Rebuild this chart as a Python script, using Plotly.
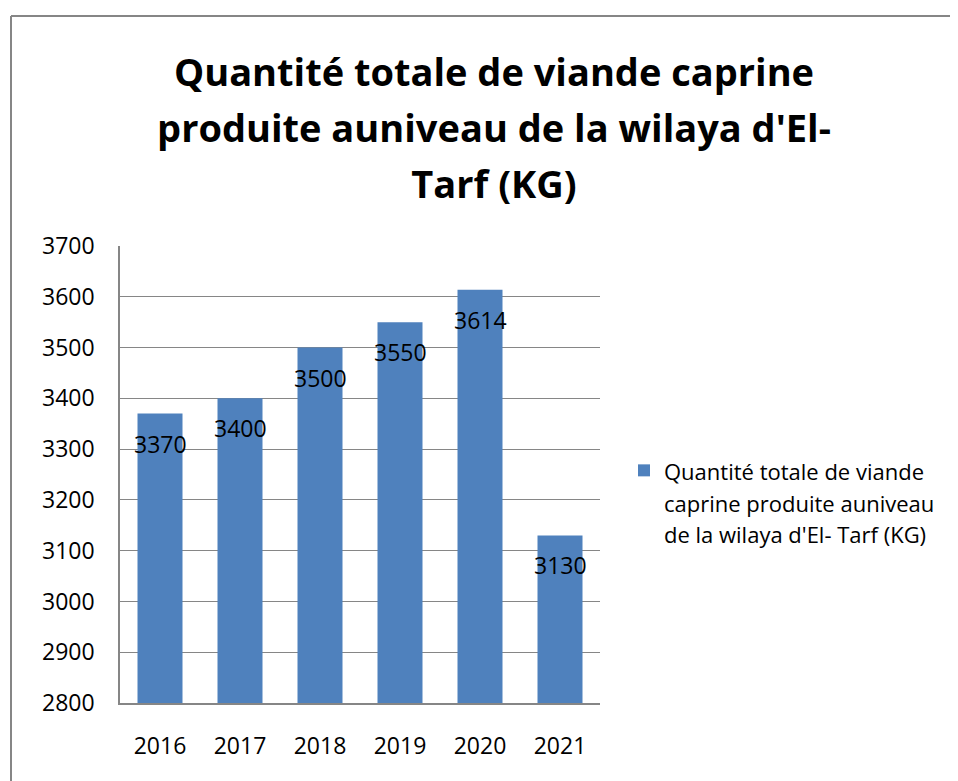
import plotly.graph_objects as go

years = ["2016", "2017", "2018", "2019", "2020", "2021"]
values = [3370, 3400, 3500, 3550, 3614, 3130]
legend_lines = ["Quantité totale de viande",
                "caprine produite auniveau",
                "de la wilaya d'El- Tarf (KG)"]
title_lines = ["Quantité totale de viande caprine",
               "produite auniveau de la wilaya d'El-",
               "Tarf (KG)"]
y_ticks = list(range(2800, 3701, 100))

FONT = "Open Sans"
BAR = "#4F81BD"
GRID = "#868686"

W, H = 950, 773
L, T = 112, 238
PW, PH = 480, 457

series_name = "<br>".join(
    f"<span style='font-size:22px'>{t}</span>" for t in legend_lines)

fig = go.Figure()
fig.add_trace(go.Bar(
    x=years, y=values, name=series_name,
    marker=dict(color=BAR, line=dict(width=0)),
    showlegend=True,
))

annotations = []
for i, v in enumerate(values):
    annotations.append(dict(
        x=i, y=v, xref="x", yref="y", text=str(v), showarrow=False,
        yshift=-30, font=dict(family=FONT, size=23, color="black"),
    ))

title_text = "<br>".join(
    f"<span style='font-size:38px'>{t}</span>" for t in title_lines)

bx = (3 - L) / PW
by = 1 + (T - 8) / PH

fig.update_layout(
    width=W, height=H,
    margin=dict(l=L, r=W - L - PW, t=T, b=H - T - PH),
    paper_bgcolor="white", plot_bgcolor="white",
    bargap=0.4375,
    title=dict(
        text=title_text, xref="container", yref="container",
        x=486 / W, xanchor="center", y=1 - 78 / H, yanchor="top",
        font=dict(family=FONT, size=43, color="black", weight="bold"),
    ),
    xaxis=dict(
        type="category",
        showline=True, linecolor=GRID, linewidth=1.5, ticks="",
        tickfont=dict(family=FONT, size=23, color="black"),
        ticklabelstandoff=22, showgrid=False,
    ),
    yaxis=dict(
        range=[2800, 3700], tickvals=y_ticks, showline=True,
        linecolor=GRID, linewidth=1.5, ticks="",
        showgrid=True, gridcolor=GRID, gridwidth=1.3,
        tickfont=dict(family=FONT, size=23, color="black"),
        ticklabelstandoff=19, zeroline=False,
    ),
    legend=dict(
        x=1.05, xanchor="left", y=0.558, yanchor="top",
        valign="top", font=dict(family=FONT, size=24.4, color="black"),
        bgcolor="rgba(0,0,0,0)", tracegroupgap=0,
    ),
    annotations=annotations,
    shapes=[
        dict(type="line", xref="paper", yref="paper",
             x0=bx, x1=bx, y0=-0.3, y1=by,
             line=dict(color=GRID, width=2)),
        dict(type="line", xref="paper", yref="paper",
             x0=bx, x1=1.9, y0=by, y1=by,
             line=dict(color=GRID, width=2)),
    ],
)

fig.write_html("out.html")
